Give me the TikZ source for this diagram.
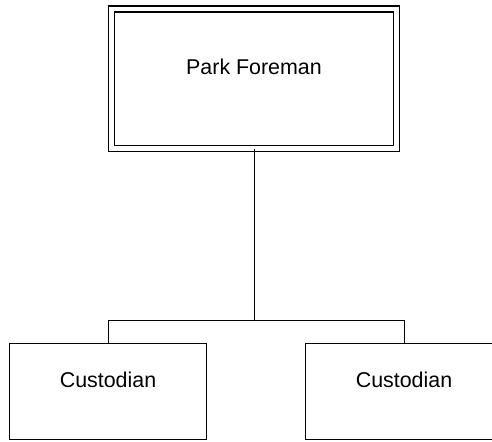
\documentclass[tikz,border=0pt]{standalone}
\usepackage{fontspec}
\setmainfont{Liberation Sans}
\usepackage{tikz}
\usetikzlibrary{positioning, calc}
\tikzstyle{post}=[draw, rectangle, inner sep=0pt, line width=0.8pt,
  font=\fontsize{10.7}{13}\selectfont, text height=6pt, text depth=10.5pt]
\tikzstyle{head}=[post, double, double distance=2.2pt, line width=0.7pt,
  minimum width=142.5pt, minimum height=69.75pt, text depth=10.75pt]
\tikzstyle{staff}=[post, minimum width=98.5pt, minimum height=48pt]
\tikzstyle{link}=[line width=0.5pt]

\begin{document}
\begin{tikzpicture}[x=0.5pt, y=-0.5pt]
      \clip (0,0) rectangle (492,441);
      \fill[white] (0,0) rectangle (492,441);

      \node[head] (foreman) at (254,78.75) {Park Foreman};
      \node[staff] (custodian1) at (108,391.5) {Custodian};
      \node[staff] (custodian2) at (404,391.5) {Custodian};

      % level of the horizontal branch
      \coordinate (bar) at (0,320);

      \draw[link] (foreman.south) -- (foreman.south |- bar);
      \draw[link] (custodian1.north) -- (custodian1.north |- bar)
        -| (custodian2.north);
    \end{tikzpicture}
\end{document}
